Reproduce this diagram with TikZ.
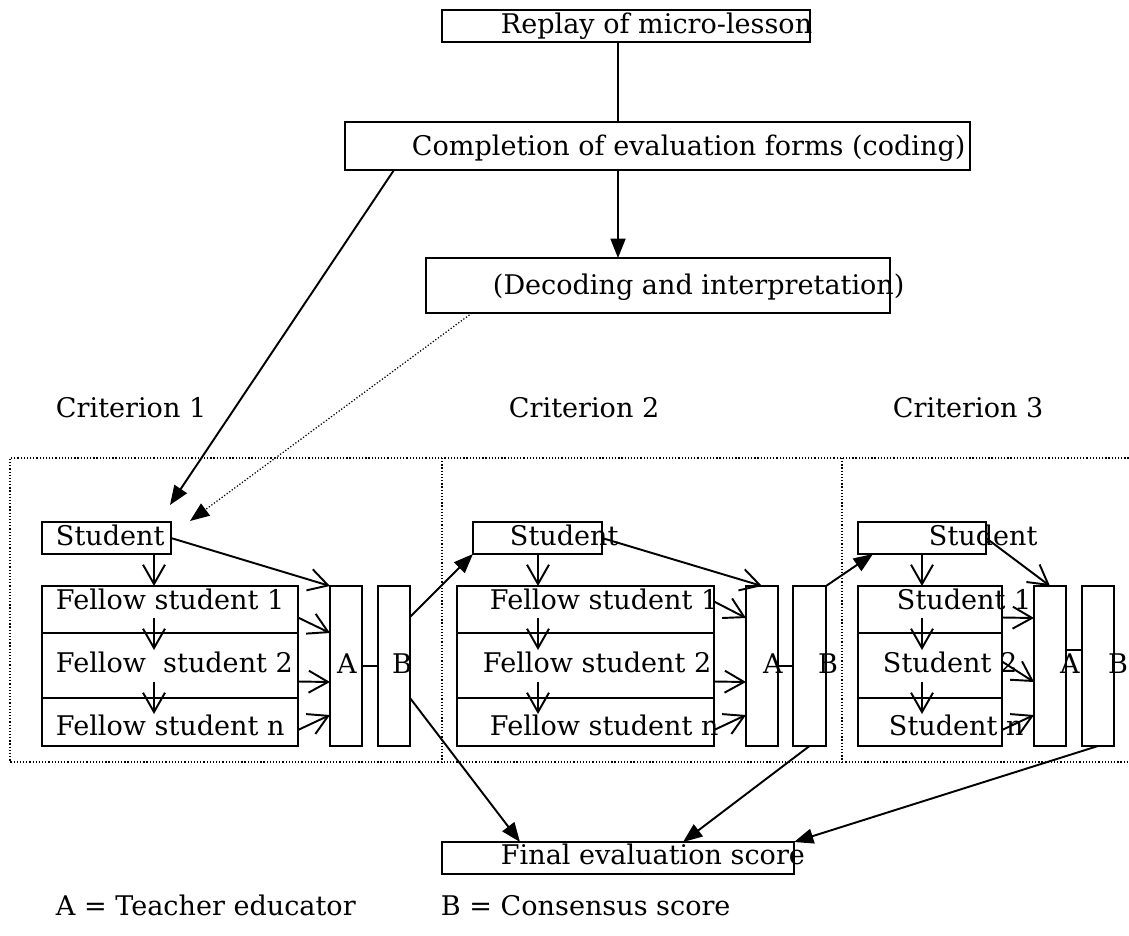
\documentclass[tikz,border=0pt]{standalone}
\usepackage{fontspec}
\setmainfont{DejaVu Serif}
\usetikzlibrary{arrows.meta,calc}
\tikzset{
  box/.style={draw, inner sep=0pt, outer sep=0pt},
  sz/.style 2 args={minimum width=#1*0.02cm, minimum height=#2*0.02cm},
  txt/.style={anchor=west, inner sep=0pt, text height=11pt, text depth=3pt},
  lab/.style={inner sep=0pt, text height=11pt, text depth=3pt},
  varrow/.style={-{Straight Barb[length=11pt,width=12.5pt,line width=1.1pt]}},
  farrow/.style={-{Triangle[length=11pt,width=8.5pt]}},
  dotline/.style={line width=0.7pt, dash pattern=on 0.7pt off 1.1pt},
}
\begin{document}
\begin{tikzpicture}[x=0.02cm, y=-0.02cm, line width=1.1pt, font=\fontsize{15.4pt}{18pt}\selectfont]
\useasboundingbox (0,0) rectangle (1129,936);
% top boxes
\node[box, sz={368}{32}] (replay) at (626,26) {};
\node[box, sz={625}{48}] (compl) at (657.5,146) {};
\node[box, sz={464}{55}] (decod) at (658,285.5) {};
\node[txt] (treplay) at (500,26) {Replay of micro-lesson};
\node[txt] (tcompl) at (411,148) {Completion of evaluation forms (coding)};
\node[txt] (tdecod) at (492,287) {(Decoding and interpretation)};
\coordinate (mid) at (618,0);
\draw (replay.south -| mid) -- (compl.north -| mid);
\draw[farrow] (compl.south -| mid) -- (decod.north -| mid);

% criteria frame
\draw[dotline] (1135,458) -- (10,458) -- (10,762) -- (1135,762);
\draw[dotline] (442,458) -- (442,762);
\draw[dotline] (842,458) -- (842,762);
\node[txt] (crit1) at (55,410) {Criterion 1};
\node[txt] (crit2) at (508,410) {Criterion 2};
\node[txt] (crit3) at (892,410) {Criterion 3};

% criterion 1
\node[box, sz={129}{32}] (st1) at (106.5,538) {};
\node[box, sz={256}{47}] (fa1) at (170,609.5) {};
\node[box, sz={256}{65}] (fb1) at (170,665.5) {};
\node[box, sz={256}{48}] (fc1) at (170,722) {};
\node[box, sz={32}{160}] (A1) at (346,666) {};
\node[box, sz={32}{160}] (B1) at (394,666) {};
\node[txt] at (55,538) {Student};
\node[txt] at (55,602) {Fellow student 1};
\node[txt] at (55,665) {Fellow~ student 2};
\node[txt] at (55,728) {Fellow student n};
\node[lab] at (347,666) {A};
\node[lab] at (402,666) {B};

% criterion 2
\node[box, sz={129}{32}] (st2) at (537.5,538) {};
\node[box, sz={257}{47}] (fa2) at (585.5,609.5) {};
\node[box, sz={257}{65}] (fb2) at (585.5,665.5) {};
\node[box, sz={257}{48}] (fc2) at (585.5,722) {};
\node[box, sz={32}{160}] (A2) at (762,666) {};
\node[box, sz={33}{160}] (B2) at (809.5,666) {};
\node[txt] at (509,538) {Student};
\node[txt] at (489,602) {Fellow student 1};
\node[txt] at (482,665) {Fellow student 2};
\node[txt] at (489,728) {Fellow student n};
\node[lab] at (773,666) {A};
\node[lab] at (828,666) {B};

% criterion 3
\node[box, sz={128}{32}] (st3) at (922,538) {};
\node[box, sz={144}{47}] (fa3) at (930,609.5) {};
\node[box, sz={144}{65}] (fb3) at (930,665.5) {};
\node[box, sz={144}{48}] (fc3) at (930,722) {};
\node[box, sz={32}{160}] (A3) at (1050,666) {};
\node[box, sz={32}{160}] (B3) at (1098,666) {};
\node[txt] at (928,538) {Student};
\node[txt] at (896,602) {Student 1};
\node[txt] at (882,665) {Student 2};
\node[txt] at (888,728) {Student n};
\node[lab] at (1070,666) {A};
\node[lab] at (1118,666) {B};

% final
\node[box, sz={352}{32}] (final) at (618,858) {};
\node[txt] at (500,857) {Final evaluation score};
\node[txt] (legA) at (55,908) {A = Teacher educator};
\node[txt] (legB) at (440,908) {B = Consensus score};

% arrows into the student boxes
\coordinate (hit1) at (170,505);
\coordinate (hit2) at (190,521);
\draw[farrow] ($(compl.south west)+(49,0)$) -- (hit1);
\draw[farrow,dotline] ($(decod.south west)+(46,0)$) -- (hit2);

% down arrows
\foreach \x/\i in {154/1,538/2,922/3} {
  \draw[varrow] (st\i.south -| \x,0) -- (fa\i.north -| \x,0);
  \draw[varrow] ($(fa\i.south -| \x,0)+(0,-15)$) -- ++(0,32);
  \draw[varrow] ($(fb\i.south -| \x,0)+(0,-16)$) -- ++(0,32);
}

% into A
\draw[varrow] (st1.east) -- (A1.north west);
\draw[varrow] ($(fa1.east)+(0,8)$) -- (A1.west |- fa1.south);
\draw[varrow] ($(fb1.east)+(0,16)$) -- ($(A1.west)+(0,16)$);
\draw[varrow] ($(fc1.east)+(0,8)$) -- ($(A1.west)+(0,49)$);
\draw (A1) -- (B1);
\draw[varrow] (st2.east) -- (A2.north);
\draw[varrow] ($(fa2.east)+(0,-8)$) -- ($(A2.west)+(0,-48)$);
\draw[varrow] ($(fb2.east)+(0,16)$) -- ($(A2.west)+(0,16)$);
\draw[varrow] ($(fc2.east)+(0,8)$) -- ($(A2.west)+(0,49)$);
\draw (A2) -- (B2);
\draw[varrow] (st3.east) -- (A3.north);
\draw[varrow] ($(fa3.east)+(0,8)$) -- ($(A3.west)+(0,-48)$);
\draw[varrow] ($(fb3.east)+(0,-4)$) -- ($(A3.west)+(0,16)$);
\draw[varrow] ($(fc3.east)+(0,8)$) -- ($(A3.west)+(0,49)$);
\draw ($(A3.east)+(0,-16)$) -- ($(B3.west)+(0,-16)$);

% out of B
\draw[farrow] ($(B1.east)+(0,-49)$) -- (st2.south west);
\draw[farrow] (B2.north east) -- ($(st3.south west)+(15,0)$);
\draw[farrow] ($(B1.east)+(0,32)$) -- ($(final.north west)+(78,0)$);
\draw[farrow] (B2.south) -- ($(final.north)+(65,0)$);
\draw[farrow] (B3.south) -- (final.north east);
\end{tikzpicture}
\end{document}
